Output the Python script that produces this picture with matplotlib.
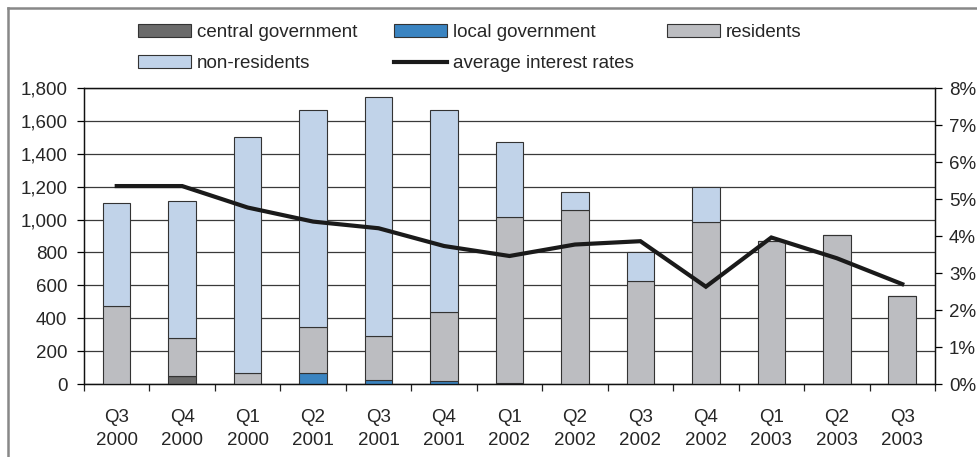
import matplotlib.pyplot as plt
from matplotlib.lines import Line2D
from matplotlib.patches import Patch
from matplotlib.ticker import FuncFormatter
import numpy as np

plt.rcParams['font.family'] = ['Liberation Sans', 'DejaVu Sans']

quarters = ["Q3\n2000", "Q4\n2000", "Q1\n2000", "Q2\n2001", "Q3\n2001", "Q4\n2001", "Q1\n2002",
            "Q2\n2002", "Q3\n2002", "Q4\n2002", "Q1\n2003", "Q2\n2003", "Q3\n2003"]
central_gov = [0, 48, 0, 0, 0, 0, 0, 0, 0, 0, 0, 0, 0]
local_gov = [0, 0, 0, 64, 27, 16, 7, 0, 0, 0, 0, 0, 0]
residents = [474, 232, 66, 285, 263, 420, 1007, 1060, 625, 983, 868, 904, 533]
non_residents = [626, 830, 1434, 1316, 1454, 1229, 456, 106, 180, 213, 0, 0, 0]
interest_rate = [5.35, 5.35, 4.77, 4.39, 4.21, 3.73, 3.46, 3.77, 3.86, 2.63, 3.96, 3.40, 2.70]

c_central = "#6b6b6b"
c_local = "#3a84c1"
c_res = "#bcbdc1"
c_nonres = "#c1d3e9"
edge = "#333333"
txt = "#262626"

fig = plt.figure(figsize=(9.78, 4.57), dpi=100)
ax = fig.add_axes([0.0859, 0.1597, 0.8701, 0.6477])

x = np.arange(len(quarters))
w = 0.42
bottom = np.zeros(len(quarters))
for vals, col in [(central_gov, c_central), (local_gov, c_local),
                  (residents, c_res), (non_residents, c_nonres)]:
    v = np.array(vals, dtype=float)
    ax.bar(x, v, w, bottom=bottom, color=col, edgecolor=edge, linewidth=0.8, zorder=3)
    bottom += v

ax.set_xlim(-0.5, len(quarters) - 0.5)
ax.set_ylim(0, 1800)
ax.set_yticks(np.arange(0, 1801, 200))
ax.yaxis.set_major_formatter(FuncFormatter(lambda v, p: f"{v:,.0f}"))
ax.grid(axis='y', color='#3a3a3a', linewidth=0.9, zorder=0)
ax.set_axisbelow(True)

# category boundaries carry the tick marks, centres carry the labels
ax.set_xticks(np.arange(-0.5, len(quarters), 1.0))
ax.set_xticklabels([])
ax.set_xticks(x, minor=True)
ax.set_xticklabels(quarters, minor=True, fontsize=13.5, color=txt, linespacing=1.45)
ax.tick_params(axis='x', which='major', length=5, width=0.9, direction='out', color='#222222')
ax.tick_params(axis='x', which='minor', length=0, pad=18)
ax.tick_params(axis='y', length=5, width=0.9, pad=7, labelsize=13.5, labelcolor=txt)
for s in ax.spines.values():
    s.set_color('#111111')
    s.set_linewidth(0.9)

ax2 = ax.twinx()
ax2.plot(x, interest_rate, color='#1a1a1a', linewidth=3, solid_joinstyle='miter', zorder=5)
ax2.set_ylim(0, 8)
ax2.set_yticks(np.arange(0, 9, 1))
ax2.yaxis.set_major_formatter(FuncFormatter(lambda v, p: f"{v:.0f}%"))
ax2.tick_params(axis='y', length=5, width=0.9, pad=5, labelsize=13.5, labelcolor=txt)
for s in ax2.spines.values():
    s.set_color('#111111')
    s.set_linewidth(0.9)

# legend laid out in three columns of two rows
col1 = [Patch(facecolor=c_central, edgecolor=edge, linewidth=0.8, label="central government"),
        Patch(facecolor=c_nonres, edgecolor=edge, linewidth=0.8, label="non-residents")]
col2 = [Patch(facecolor=c_local, edgecolor=edge, linewidth=0.8, label="local government"),
        Line2D([0], [0], color='#1a1a1a', linewidth=3, label="average interest rates")]
col3 = [Patch(facecolor=c_res, edgecolor=edge, linewidth=0.8, label="residents")]
for handles, xpos in [(col1, 138), (col2, 394), (col3, 667)]:
    fig.legend(handles=handles, loc='upper left', bbox_to_anchor=(xpos / 978, 1 - 24 / 457),
               frameon=False, fontsize=13.5, handlelength=2.85, handleheight=0.7,
               handletextpad=0.3, labelspacing=0.75, borderpad=0, borderaxespad=0,
               labelcolor=txt)

# thin grey frame along the top and left edges
fig.add_artist(Line2D([8 / 978, 1], [1 - 8 / 457, 1 - 8 / 457], transform=fig.transFigure,
                      color='#888888', linewidth=1.8))
fig.add_artist(Line2D([8 / 978, 8 / 978], [0, 1 - 8 / 457], transform=fig.transFigure,
                      color='#888888', linewidth=1.8))

fig.savefig("out.png", dpi=100)
plt.close(fig)
